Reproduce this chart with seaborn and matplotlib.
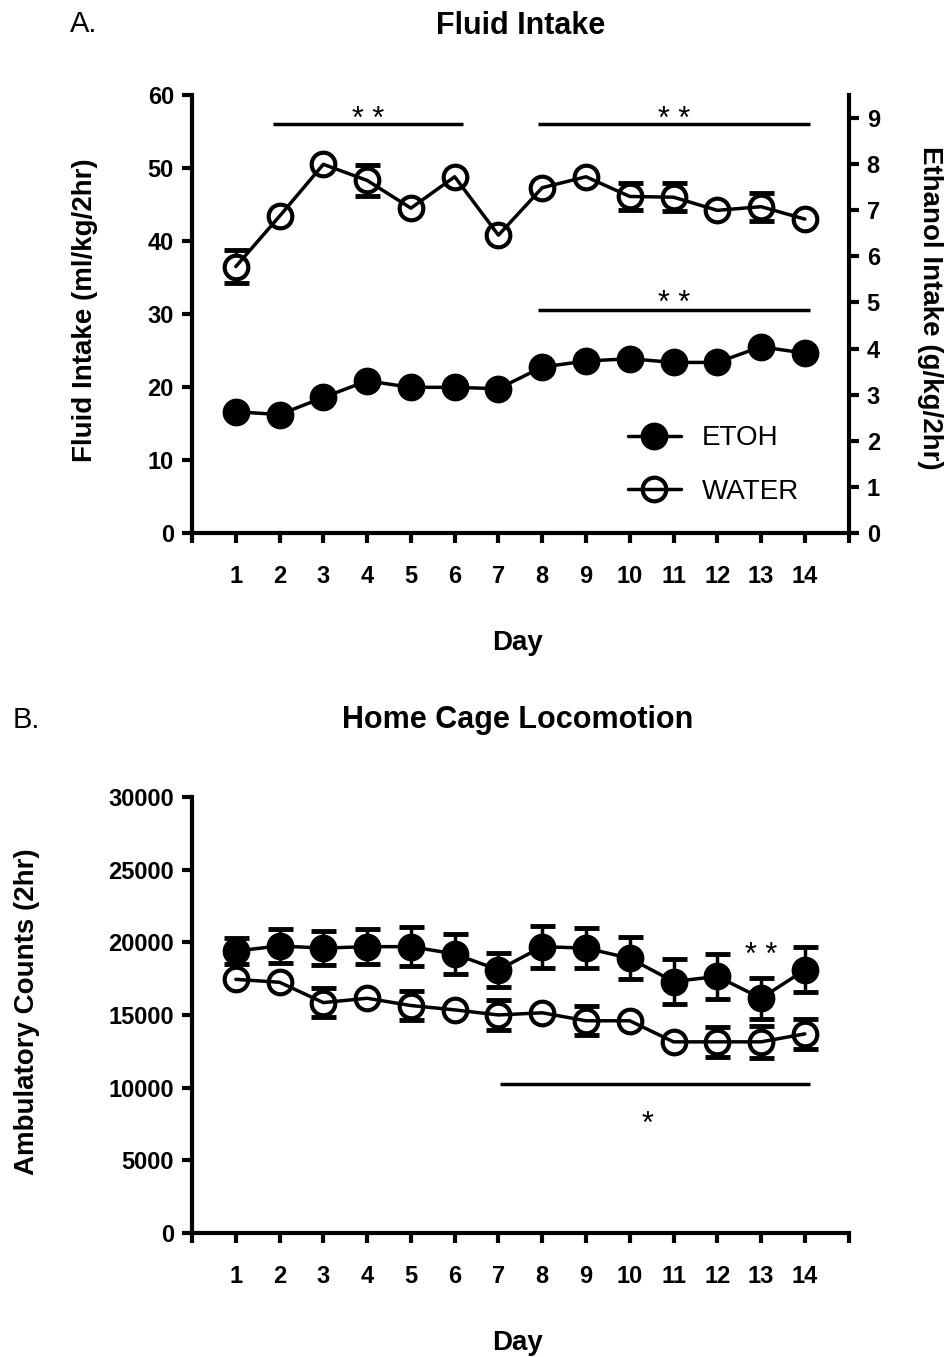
import numpy as np
import pandas as pd
import seaborn as sns
import matplotlib.pyplot as plt
from matplotlib.lines import Line2D

nan = np.nan

# data
days = list(range(1, 15))

# panel A
water_intake = [36.5, 43.4, 50.5, 48.3, 44.5, 48.8, 40.8, 47.3, 48.8, 46.1, 46.0, 44.2, 44.7, 43.0]
water_intake_sem = [2.3, nan, nan, 2.1, nan, nan, nan, nan, nan, 1.9, 1.9, nan, 1.9, nan]
etoh_intake = [2.63, 2.57, 2.94, 3.30, 3.16, 3.16, 3.13, 3.60, 3.73, 3.78, 3.70, 3.70, 4.04, 3.90]

# panel B
etoh_counts = [19400, 19750, 19600, 19700, 19700, 19200, 18100, 19700, 19600, 18900, 17300, 17650, 16150, 18100]
etoh_counts_sem = [900, 1150, 1150, 1200, 1350, 1350, 1150, 1450, 1400, 1450, 1550, 1550, 1400, 1550]
water_counts = [17450, 17250, 15850, 16150, 15650, 15350, 15000, 15150, 14600, 14600, 13150, 13150, 13150, 13700]
water_counts_sem = [nan, nan, 1000, nan, 1000, nan, 1050, nan, 1000, nan, nan, 1050, 1100, 1050]

# significance bars: (start day, end day, bar height, star baseline)
sig_A = [(1.85, 6.18, 56.0, 55.5), (7.91, 14.11, 56.0, 55.5), (7.91, 14.11, 30.5, 30.3)]
sig_B = [(7.04, 14.11, 10250, 6900)]
sig_B_extra = (13, 18530)  # "* *" over day 13

sns.set_theme(style="ticks")
plt.rcParams['font.family'] = ['Liberation Sans', 'DejaVu Sans']
plt.rcParams['text.color'] = 'black'
plt.rcParams['axes.labelcolor'] = 'black'

LW = 2.5
MS = 17
MEW = 3.0
STAR = 22


def draw_series(ax, x, y, sem, filled):
    x = np.asarray(x, dtype=float)
    y = np.asarray(y, dtype=float)
    if sem is not None:
        sem = np.asarray(sem, dtype=float)
        m = ~np.isnan(sem)
        ax.errorbar(x[m], y[m], yerr=sem[m], fmt='none', ecolor='black',
                    elinewidth=2.5, capsize=9, capthick=3.5, zorder=2)
    df = pd.DataFrame({'day': x, 'val': y})
    if not filled:
        # white fill hides the error stems inside the open circles
        ax.plot(x, y, ls='none', marker='o', ms=MS, mfc='white', mec='white', zorder=3)
    sns.lineplot(data=df, x='day', y='val', ax=ax, color='black', lw=LW,
                 marker='o', markersize=MS, markeredgewidth=MEW, markeredgecolor='black',
                 markerfacecolor='black' if filled else 'none', zorder=4, legend=False)


def style_axis(ax):
    for s in ['top', 'right']:
        ax.spines[s].set_visible(False)
    for s in ['left', 'bottom']:
        ax.spines[s].set_linewidth(3)
        ax.spines[s].set_color('black')
    ax.set_xlim(0, 15)
    ax.set_xticks(range(0, 16))
    ax.set_xticklabels([''] + [str(d) for d in days] + [''])
    ax.tick_params(axis='x', direction='out', length=7, width=3, pad=16, labelsize=17, colors='black')
    ax.tick_params(axis='y', direction='out', length=7, width=3, pad=6, labelsize=17, colors='black')
    for lab in ax.get_xticklabels() + ax.get_yticklabels():
        lab.set_fontweight('bold')
    ax.set_xlabel('Day', fontsize=20, fontweight='bold')
    ax.xaxis.set_label_coords(0.496, -0.222)
    ax.grid(False)
    ax.set_facecolor('white')


fig = plt.figure(figsize=(9.53, 13.57), dpi=100)
fig.patch.set_facecolor('white')

# ---------------- panel A ----------------
axA = fig.add_axes([0.2015, 0.6072, 0.689, 0.3228])
axA2 = axA.twinx()

draw_series(axA, days, water_intake, water_intake_sem, filled=False)
draw_series(axA2, days, etoh_intake, None, filled=True)

style_axis(axA)
axA.set_ylim(0, 60)
axA.set_yticks(range(0, 61, 10))
axA.set_ylabel('Fluid Intake (ml/kg/2hr)', fontsize=20, fontweight='bold')
axA.yaxis.set_label_coords(-0.143, 0.509)

axA2.set_ylim(0, 9.5)
axA2.set_yticks(range(0, 10))
for s in ['top', 'left', 'bottom']:
    axA2.spines[s].set_visible(False)
axA2.spines['right'].set_linewidth(3)
axA2.spines['right'].set_color('black')
axA2.tick_params(axis='y', direction='out', length=7, width=3, pad=6, labelsize=17, colors='black')
for lab in axA2.get_yticklabels():
    lab.set_fontweight('bold')
axA2.set_ylabel('Ethanol Intake (g/kg/2hr)', fontsize=20, fontweight='bold', rotation=270)
axA2.yaxis.set_label_coords(1.144, 0.514)
axA2.grid(False)

for x0, x1, yl, ys in sig_A:
    axA.plot([x0, x1], [yl, yl], color='black', lw=2.5, solid_capstyle='butt')
    axA.text((x0 + x1) / 2, ys, '* *', ha='center', va='baseline', fontsize=STAR)

handles = [
    Line2D([], [], color='black', lw=LW, marker='o', ms=MS, mew=MEW, mfc='black', mec='black'),
    Line2D([], [], color='black', lw=LW, marker='o', ms=MS, mew=MEW, mfc='none', mec='black'),
]
leg = axA2.legend(handles, ['ETOH', 'WATER'], loc='center left', bbox_to_anchor=(0.664, 0.155),
                  frameon=False, fontsize=20, handlelength=1.9, handletextpad=0.75,
                  labelspacing=1.0, borderpad=0, borderaxespad=0)

fig.text(0.073, 0.982, 'A.', fontsize=21, ha='left', va='center')
fig.text(0.546, 0.981, 'Fluid Intake', fontsize=22, fontweight='bold', ha='center', va='center')

# ---------------- panel B ----------------
axB = fig.add_axes([0.2015, 0.0914, 0.689, 0.3213])
draw_series(axB, days, water_counts, water_counts_sem, filled=False)
draw_series(axB, days, etoh_counts, etoh_counts_sem, filled=True)
style_axis(axB)
axB.set_ylim(0, 30000)
axB.set_yticks(range(0, 30001, 5000))
for lab in axB.get_yticklabels():
    lab.set_fontweight('bold')
axB.set_ylabel('Ambulatory Counts (2hr)', fontsize=20, fontweight='bold')
axB.yaxis.set_label_coords(-0.231, 0.507)

for x0, x1, yl, ys in sig_B:
    axB.plot([x0, x1], [yl, yl], color='black', lw=2.5, solid_capstyle='butt')
    axB.text((x0 + x1) / 2 - 0.17, ys, '*', ha='center', va='baseline', fontsize=STAR)
axB.text(sig_B_extra[0], sig_B_extra[1], '* *', ha='center', va='baseline', fontsize=STAR)

fig.text(0.013, 0.4694, 'B.', fontsize=21, ha='left', va='center')
fig.text(0.5435, 0.4694, 'Home Cage Locomotion', fontsize=22, fontweight='bold', ha='center', va='center')

fig.savefig('out.png', dpi=100)
